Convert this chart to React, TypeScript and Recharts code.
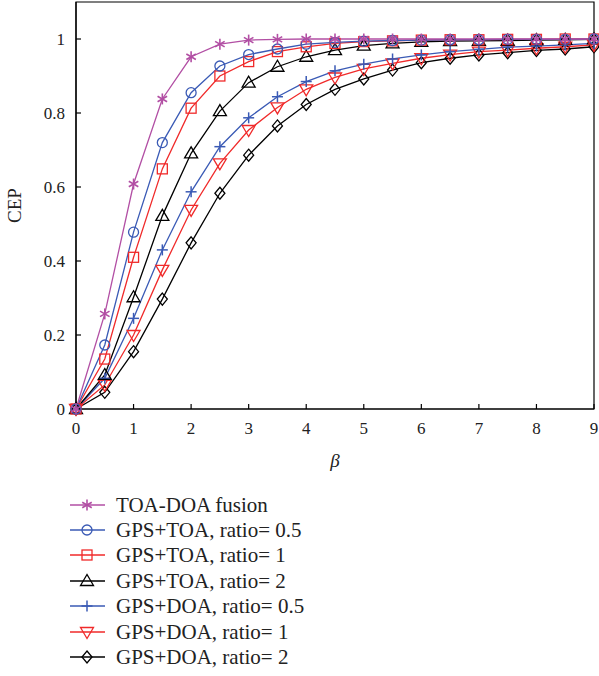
import React from 'react';
import { LineChart, Line, XAxis, YAxis, Legend, ReferenceArea } from 'recharts';

const betaValues = [0, 0.5, 1, 1.5, 2, 2.5, 3, 3.5, 4, 4.5, 5, 5.5, 6, 6.5, 7, 7.5, 8, 8.5, 9];
const xTicks = [0, 1, 2, 3, 4, 5, 6, 7, 8, 9];
const yTicks = [0, 0.2, 0.4, 0.6, 0.8, 1];

const fusion = [0, 0.257, 0.608, 0.838, 0.952, 0.986, 0.997, 0.999, 1, 1, 1, 1, 1, 1, 1, 1, 1, 1, 1];
const toa05 = [0, 0.173, 0.478, 0.72, 0.855, 0.927, 0.958, 0.973, 0.986, 0.991, 0.994, 0.996, 0.997, 0.998, 0.998, 0.999, 0.999, 0.999, 1.0];
const toa1 = [0, 0.135, 0.41, 0.649, 0.813, 0.9, 0.939, 0.966, 0.979, 0.988, 0.993, 0.995, 0.997, 0.998, 0.998, 0.999, 0.999, 1.0, 1.0];
const toa2 = [0, 0.092, 0.302, 0.522, 0.691, 0.805, 0.882, 0.925, 0.952, 0.97, 0.982, 0.988, 0.992, 0.994, 0.995, 0.996, 0.997, 0.998, 0.999];
const doa05 = [0, 0.083, 0.245, 0.43, 0.587, 0.709, 0.787, 0.844, 0.885, 0.914, 0.932, 0.946, 0.957, 0.966, 0.972, 0.978, 0.981, 0.984, 0.988];
const doa1 = [0, 0.065, 0.2, 0.376, 0.538, 0.664, 0.754, 0.815, 0.864, 0.896, 0.919, 0.934, 0.948, 0.958, 0.966, 0.97, 0.975, 0.979, 0.984];
const doa2 = [0, 0.045, 0.155, 0.297, 0.449, 0.583, 0.686, 0.765, 0.823, 0.864, 0.892, 0.916, 0.936, 0.948, 0.957, 0.963, 0.969, 0.973, 0.979];

const seriesNames = [
  'TOA-DOA fusion',
  'GPS+TOA, ratio= 0.5',
  'GPS+TOA, ratio= 1',
  'GPS+TOA, ratio= 2',
  'GPS+DOA, ratio= 0.5',
  'GPS+DOA, ratio= 1',
  'GPS+DOA, ratio= 2',
];
const seriesKeys = ['fusion', 'toa05', 'toa1', 'toa2', 'doa05', 'doa1', 'doa2'];
const seriesValues = [fusion, toa05, toa1, toa2, doa05, doa1, doa2];

const PURPLE = '#b24fa4';
const BLUE = '#3a5ab5';
const RED = '#f02a2a';
const BLACK = '#000000';
const seriesColors = [PURPLE, BLUE, RED, BLACK, BLUE, RED, BLACK];
const seriesShapes = ['star', 'circle', 'square', 'triUp', 'plus', 'triDown', 'diamond'];

const data = betaValues.map((b, i) => {
  const row: any = { beta: b };
  seriesKeys.forEach((k, j) => {
    row[k] = seriesValues[j][i];
  });
  return row;
});

const FONT = '"Liberation Serif", "DejaVu Serif", serif';

function Marker({ shape, cx, cy, color }: { shape: string; cx: number; cy: number; color: string }) {
  const sw = 1.3;
  switch (shape) {
    case 'star': {
      const r = 5.5;
      const lines = [0, 60, 120].map((a) => {
        const rad = (a * Math.PI) / 180 + Math.PI / 2;
        return (
          <line
            key={a}
            x1={cx + r * Math.cos(rad)}
            y1={cy + r * Math.sin(rad)}
            x2={cx - r * Math.cos(rad)}
            y2={cy - r * Math.sin(rad)}
            stroke={color}
            strokeWidth={1.6}
          />
        );
      });
      return <g>{lines}</g>;
    }
    case 'circle':
      return <circle cx={cx} cy={cy} r={5} fill="none" stroke={color} strokeWidth={sw} />;
    case 'square':
      return <rect x={cx - 5} y={cy - 5} width={10} height={10} fill="none" stroke={color} strokeWidth={sw} />;
    case 'triUp':
      return (
        <polygon
          points={`${cx},${cy - 6.5} ${cx - 6.5},${cy + 4.5} ${cx + 6.5},${cy + 4.5}`}
          fill="none"
          stroke={color}
          strokeWidth={sw}
        />
      );
    case 'triDown':
      return (
        <polygon
          points={`${cx},${cy + 6.5} ${cx - 6.5},${cy - 4.5} ${cx + 6.5},${cy - 4.5}`}
          fill="none"
          stroke={color}
          strokeWidth={sw}
        />
      );
    case 'plus':
      return (
        <g>
          <line x1={cx - 5.5} y1={cy} x2={cx + 5.5} y2={cy} stroke={color} strokeWidth={1.5} />
          <line x1={cx} y1={cy - 5.5} x2={cx} y2={cy + 5.5} stroke={color} strokeWidth={1.5} />
        </g>
      );
    case 'diamond':
      return (
        <polygon
          points={`${cx},${cy - 6} ${cx + 5},${cy} ${cx},${cy + 6} ${cx - 5},${cy}`}
          fill="#ffffff"
          fillOpacity={0}
          stroke={color}
          strokeWidth={sw}
        />
      );
    default:
      return null;
  }
}

function makeDot(shape: string, color: string) {
  return (props: any) => {
    const { cx, cy, index } = props;
    if (cx == null || cy == null) return <g key={index} />;
    return (
      <g key={index}>
        <Marker shape={shape} cx={cx} cy={cy} color={color} />
      </g>
    );
  };
}

function LegendContent() {
  return (
    <div style={{ fontFamily: FONT, fontSize: 21, color: '#222' }}>
      {seriesNames.map((name, i) => (
        <div key={name} style={{ display: 'flex', alignItems: 'center', height: 25.4 }}>
          <svg width={46} height={20} style={{ display: 'block' }}>
            <line x1={0} y1={10} x2={35} y2={10} stroke={seriesColors[i]} strokeWidth={1.3} />
            <Marker shape={seriesShapes[i]} cx={17} cy={10} color={seriesColors[i]} />
          </svg>
          <span style={{ whiteSpace: 'nowrap', lineHeight: '20px' }}>{name}</span>
        </div>
      ))}
    </div>
  );
}

export default function App() {
  return (
    <div style={{ position: 'absolute', left: 0, top: 0, width: 599, height: 676, background: '#fff' }}>
      <LineChart
        width={599}
        height={676}
        data={data}
        margin={{ top: 2, right: 5, bottom: 207, left: 0 }}
      >
        <ReferenceArea x1={0} x2={9} y1={0} y2={1.1} fill="none" stroke="#000" strokeWidth={1.2} ifOverflow="visible" />
        <XAxis
          dataKey="beta"
          type="number"
          domain={[0, 9]}
          ticks={xTicks}
          height={60}
          tickSize={-5}
          tickMargin={18}
          axisLine={{ stroke: '#000', strokeWidth: 1.2 }}
          tickLine={{ stroke: '#000', strokeWidth: 1.2 }}
          tick={{ fill: '#222', fontSize: 17, fontFamily: FONT }}
          label={{
            value: 'β',
            position: 'insideBottom',
            offset: 2,
            style: { fill: '#222', fontSize: 19, fontFamily: FONT, fontStyle: 'italic' },
          }}
        />
        <YAxis
          type="number"
          domain={[0, 1.1]}
          ticks={yTicks}
          width={76}
          tickSize={-5}
          tickMargin={16}
          tickFormatter={(v: number) => String(v)}
          axisLine={{ stroke: '#000', strokeWidth: 1.2 }}
          tickLine={{ stroke: '#000', strokeWidth: 1.2 }}
          tick={{ fill: '#222', fontSize: 17, fontFamily: FONT }}
          label={{
            value: 'CEP',
            angle: -90,
            position: 'insideLeft',
            offset: 14,
            style: { fill: '#222', fontSize: 19, fontFamily: FONT, textAnchor: 'middle' },
          }}
        />
        <Legend
          layout="horizontal"
          verticalAlign="middle"
          align="center"
          content={() => <LegendContent />}
          wrapperStyle={{ position: 'absolute', top: 492, left: 70, width: 330, height: 180 }}
        />
        {[6, 5, 4, 3, 2, 1, 0].map((j) => (
          <Line
            key={seriesKeys[j]}
            type="linear"
            dataKey={seriesKeys[j]}
            name={seriesNames[j]}
            stroke={seriesColors[j]}
            strokeWidth={1.3}
            dot={makeDot(seriesShapes[j], seriesColors[j])}
            activeDot={false}
            isAnimationActive={false}
          />
        ))}
      </LineChart>
    </div>
  );
}
